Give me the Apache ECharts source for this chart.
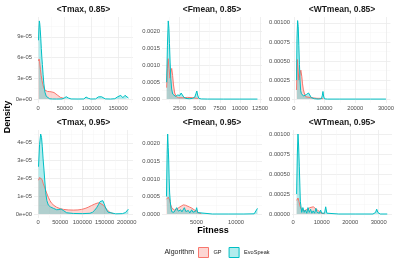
<!DOCTYPE html>
<html><head><meta charset="utf-8">
<script src="https://cdn.jsdelivr.net/npm/echarts@6/dist/echarts.min.js"></script>
<style>html,body{margin:0;padding:0;background:#fff}#c{width:397px;height:264px}</style>
</head><body><div id="c"></div>
<script>
// ---- Panel titles ----
const panelTitles = ['<Tmax, 0.85>', '<Fmean, 0.85>', '<WTmean, 0.85>', '<Tmax, 0.95>', '<Fmean, 0.95>', '<WTmean, 0.95>'];
const algorithms = ['GP', 'EvoSpeak'];

// ---- Density curves (x = fitness, y = density) ----
// <Tmax, 0.85>
const tmax85EvoX = [1000, 1800, 2500, 3300, 4200, 5200, 6200, 7200, 8200, 9500, 11000, 13000, 15500, 18000, 22000, 27000, 35000, 45000, 49000, 53000, 57000, 62000, 75000, 86000, 90000, 94000, 99000, 108000, 113000, 116500, 119000, 122000, 126000, 136000, 144000, 148500, 151500, 155000, 159000, 163000, 166500, 169500];
const tmax85EvoY = [8.5e-5, 1.04e-4, 1.13e-4, 1.09e-4, 1.0e-4, 8.8e-5, 7.3e-5, 6.0e-5, 5.0e-5, 3.6e-5, 2.2e-5, 1.0e-5, 4e-6, 1.5e-6, 4e-7, 1.5e-7, 1e-7, 2e-7, 1.5e-6, 3.4e-6, 1.5e-6, 2e-7, 1e-7, 2e-7, 3e-6, 1.2e-6, 1e-7, 3e-7, 3.2e-6, 2e-6, 3.4e-6, 2.5e-6, 3e-7, 1e-7, 5e-7, 3e-6, 1.5e-6, 5.4e-6, 2e-6, 5.4e-6, 3e-6, 1.5e-6];
const tmax85GpX = [1000, 2000, 3000, 4500, 6000, 7500, 9000, 11000, 13000, 15000, 18000, 22000, 26000, 30000, 33000, 36000, 39000, 42000, 45000, 48500];
const tmax85GpY = [5.5e-5, 5.8e-5, 5.4e-5, 4.3e-5, 3.4e-5, 2.7e-5, 2.1e-5, 1.6e-5, 1.3e-5, 1.15e-5, 1.1e-5, 1.08e-5, 1.03e-5, 9.5e-6, 8e-6, 6e-6, 4e-6, 2.5e-6, 1.5e-6, 1e-6];
// <Fmean, 0.85>
const fmean85EvoX = [900, 1000, 1100, 1180, 1250, 1330, 1420, 1520, 1650, 1780, 1880, 2000, 2120, 2260, 2400, 2550, 2700, 2800, 2900, 3050, 3300, 3700, 4100, 4400, 4550, 4650, 4750, 4900, 5200, 6000, 8000, 10000, 12180];
const fmean85EvoY = [0.0005, 0.0016, 0.00232, 0.0021, 0.00165, 0.0011, 0.0006, 0.0003, 0.00015, 0.00012, 0.00017, 0.00008, 0.00006, 0.00012, 0.00008, 0.00011, 0.00018, 0.00021, 0.00014, 0.00005, 0.00002, 0.00001, 0.00002, 0.00006, 0.00017, 0.00024, 0.00012, 0.00002, 0.000005, 0.000001, 0, 0, 0];
const fmean85GpX = [900, 1000, 1080, 1200, 1310, 1420, 1530, 1640, 1750, 1900, 2100, 2400, 2900, 3500, 4200, 4800];
const fmean85GpY = [0.00034, 0.0009, 0.0012, 0.0009, 0.00062, 0.0008, 0.00091, 0.0007, 0.00042, 0.00018, 0.00007, 0.00004, 0.00004, 0.00005, 0.00004, 0.00002];
// <WTmean, 0.85>
const wt85EvoX = [900, 1050, 1250, 1450, 1650, 1850, 2050, 2250, 2500, 2700, 2900, 3200, 3500, 3800, 4100, 4400, 4800, 5100, 5400, 5700, 6100, 6700, 8000, 9000, 9300, 9500, 9700, 10000, 11000, 15000, 20000, 25000, 30000];
const wt85EvoY = [0.00025, 0.0008, 0.00103, 0.00095, 0.0007, 0.00045, 0.00024, 0.00011, 0.00007, 0.00006, 0.00008, 0.00004, 0.00002, 0.00004, 0.00006, 0.00005, 0.00008, 0.0001, 0.00007, 0.00002, 0.00001, 0.000005, 0, 0.000005, 0.00005, 0.0001, 0.00004, 0.000003, 0, 0, 0, 0, 0];
const wt85GpX = [900, 1130, 1350, 1650, 1950, 2300, 2600, 2850, 3100, 3400, 3900, 4500, 5500, 6500, 7500, 8500, 9500];
const wt85GpY = [0.00012, 0.00052, 0.00042, 0.00025, 0.00031, 0.00038, 0.0003, 0.0002, 0.00013, 0.00008, 0.00003, 0.00002, 0.00002, 0.000015, 0.00001, 0.00001, 0.000005];
// <Tmax, 0.95>
const tmax95EvoX = [1200, 3500, 6000, 8000, 9700, 11500, 13500, 15500, 17300, 20000, 23300, 28000, 34500, 42000, 47000, 52000, 57000, 64600, 80000, 100000, 117000, 123000, 128000, 132000, 136000, 140000, 143000, 146000, 148600, 151500, 154700, 158000, 162000, 175000, 190000, 197000, 200000, 203500];
const tmax95EvoY = [2.66e-5, 3.9e-5, 4.5e-5, 4.3e-5, 3.78e-5, 3.1e-5, 2.47e-5, 1.8e-5, 1.2e-5, 7.5e-6, 5e-6, 4e-6, 3.2e-6, 2.4e-6, 2.5e-6, 2.8e-6, 2e-6, 7e-7, 3e-7, 2e-7, 4e-7, 1e-6, 2.2e-6, 3.5e-6, 5.2e-6, 7e-6, 7.9e-6, 7.5e-6, 6e-6, 4e-6, 2.2e-6, 1e-6, 3e-7, 1e-7, 2e-7, 8e-7, 1.6e-6, 2.7e-6];
const tmax95GpX = [1200, 3500, 6000, 9000, 12000, 15800, 19500, 23300, 27000, 30800, 36000, 42000, 50000, 57000, 68000, 80000, 90000, 98400, 106000, 113000, 120000, 128000, 133000, 138000, 142500, 147000, 151500, 156000, 161000, 166000, 170000];
const tmax95GpY = [1.9e-5, 2.05e-5, 2.1e-5, 1.95e-5, 1.7e-5, 1.44e-5, 1.18e-5, 9.4e-6, 7.5e-6, 6e-6, 4.8e-6, 3.8e-6, 3e-6, 2.6e-6, 2.3e-6, 2.2e-6, 2.3e-6, 2.6e-6, 3.1e-6, 3.8e-6, 4.7e-6, 5.6e-6, 6.1e-6, 6.3e-6, 6e-6, 5e-6, 3.6e-6, 2.2e-6, 1.2e-6, 5e-7, 2e-7];
// <Fmean, 0.95>
const fmean95EvoX = [1200, 1280, 1350, 1420, 1480, 1540, 1600, 1680, 1770, 1880, 2000, 2150, 2300, 2490, 2700, 2850, 3000, 3150, 3300, 3460, 3650, 3800, 3970, 4150, 4300, 4390, 4550, 4750, 4900, 5020, 5150, 5400, 7000, 9000, 11000, 12300, 12550, 12716];
const fmean95EvoY = [0.0005, 0.0017, 0.00228, 0.0019, 0.00154, 0.001, 0.0006, 0.00035, 0.00017, 0.00006, 0.00002, 0.00005, 0.0001, 0.00018, 0.00008, 0.00004, 0.00012, 0.00006, 0.00008, 0.00018, 0.00007, 0.00004, 0.0001, 0.00003, 0.00007, 0.00012, 0.00005, 0.00002, 0.00008, 0.00018, 0.00004, 0.000005, 0, 0, 0, 0.000005, 0.00006, 0.00016];
const fmean95GpX = [1200, 1430, 1600, 1730, 1900, 2060, 2250, 2490, 2750, 3000, 3330, 3600, 3840, 4100, 4390, 4700, 5020, 5300, 5600];
const fmean95GpY = [0.00042, 0.00048, 0.0004, 0.00026, 0.00016, 0.00011, 0.00011, 0.00013, 0.00018, 0.00023, 0.00026, 0.00025, 0.00022, 0.0002, 0.00017, 0.00012, 0.00008, 0.00003, 0.00001];
// <WTmean, 0.95>
const wt95EvoX = [1200, 1450, 1680, 1900, 2150, 2500, 2980, 3400, 3850, 4300, 4750, 5200, 5650, 6100, 6550, 7000, 7500, 8000, 8400, 8800, 9200, 9600, 10000, 10400, 11000, 11400, 11800, 12500, 16000, 22000, 28000, 28900, 29300, 29700, 30500, 33000];
const wt95EvoY = [0.00025, 0.00075, 0.001, 0.00085, 0.00059, 0.00016, 0.00002, 0.00008, 0.00002, 0.00005, 0.00001, 0.00008, 0.00002, 0.00006, 0.00001, 0.00004, 0.00001, 0.00007, 0.00002, 0.00003, 0.00001, 0.00005, 0.00001, 0.000005, 0.00001, 0.00009, 0.00001, 0, 0, 0, 0, 0.00002, 0.00006, 0.00002, 0, 0];
const wt95GpX = [1200, 1680, 2000, 2390, 2800, 3240, 3800, 4400, 5100, 5900, 6500, 7060, 7700, 8460, 9200, 10000, 11000];
const wt95GpY = [0.00017, 0.0002, 0.00016, 0.0001, 0.00006, 0.00004, 0.00004, 0.00005, 0.00006, 0.00008, 0.00009, 0.00009, 0.00007, 0.00005, 0.00003, 0.00001, 0.000003];

// ---- Axis ranges and tick steps per panel ----
const xRanges = [[-7500, 178000], [323, 12745], [-577, 31474], [-9000, 214000], [633, 13291], [-420, 34666]];
const xSteps = [50000, 2500, 10000, 50000, 5000, 10000];
const yMax = [1.13e-4, 0.00232, 0.001026, 4.5e-5, 0.00228, 0.001];
const ySteps = [3e-5, 0.0005, 0.00025, 1e-5, 0.0005, 0.00025];

const gpCurves = [[tmax85GpX, tmax85GpY], [fmean85GpX, fmean85GpY], [wt85GpX, wt85GpY], [tmax95GpX, tmax95GpY], [fmean95GpX, fmean95GpY], [wt95GpX, wt95GpY]];
const evoCurves = [[tmax85EvoX, tmax85EvoY], [fmean85EvoX, fmean85EvoY], [wt85EvoX, wt85EvoY], [tmax95EvoX, tmax95EvoY], [fmean95EvoX, fmean95EvoY], [wt95EvoX, wt95EvoY]];

// ---- formatting ----
function sci(v) {
  const s = v.toExponential(0).split('e');
  const e = s[1];
  return s[0] + 'e' + e[0] + e.slice(1).padStart(2, '0');
}
const yFormatters = [sci, v => v.toFixed(4), v => v.toFixed(5), sci, v => v.toFixed(4), v => v.toFixed(5)];

// ---- layout ----
const colLeft = [34, 162, 292];
const colWidth = [99, 100, 100];
const rowTop = [17, 130];
const rowHeight = [86, 88];
const xLabelMargin = [2, 1];
const GP_COLOR = '#F8766D', EVO_COLOR = '#00BFC4';
const FONT = 'Liberation Sans';

const grids = [], xAxes = [], yAxes = [], series = [], graphics = [];
for (let i = 0; i < 6; i++) {
  const c = i % 3, r = Math.floor(i / 3);
  grids.push({left: colLeft[c], top: rowTop[r], width: colWidth[c], height: rowHeight[r], containLabel: false});
  xAxes.push({
    type: 'value', gridIndex: i, min: xRanges[i][0], max: xRanges[i][1],
    minInterval: xSteps[i], maxInterval: xSteps[i], splitNumber: 5,
    axisLine: {show: false}, axisTick: {show: false},
    axisLabel: {fontSize: 5.8, color: '#4d4d4d', margin: xLabelMargin[r], showMinLabel: false, showMaxLabel: false, fontFamily: FONT,
      formatter: v => String(Math.round(v))},
    splitLine: {show: true, showMinLine: false, showMaxLine: false, lineStyle: {color: '#ebebeb', width: 0.8}},
    minorTick: {show: false, splitNumber: 2},
    minorSplitLine: {show: true, lineStyle: {color: '#f4f4f4', width: 0.5}}
  });
  const ym = yMax[i];
  yAxes.push({
    type: 'value', gridIndex: i, min: -0.05 * ym, max: 1.05 * ym,
    minInterval: ySteps[i], maxInterval: ySteps[i], splitNumber: 5,
    axisLine: {show: false}, axisTick: {show: false},
    axisLabel: {fontSize: 5.8, color: '#4d4d4d', margin: 2, showMinLabel: false, showMaxLabel: false, fontFamily: FONT,
      formatter: yFormatters[i]},
    splitLine: {show: true, showMinLine: false, showMaxLine: false, lineStyle: {color: '#ebebeb', width: 0.8}},
    minorTick: {show: false, splitNumber: 2},
    minorSplitLine: {show: true, lineStyle: {color: '#f4f4f4', width: 0.5}}
  });
  const curves = [[gpCurves[i], algorithms[0], GP_COLOR, 'rgba(248,118,109,0.3)'], [evoCurves[i], algorithms[1], EVO_COLOR, 'rgba(0,191,196,0.3)']];
  curves.forEach(([cv, name, col, fill]) => {
    series.push({
      type: 'line', name: name, xAxisIndex: i, yAxisIndex: i,
      data: cv[0].map((x, k) => [x, cv[1][k]]),
      showSymbol: false, symbol: 'none', silent: true,
      lineStyle: {color: col, width: 1},
      itemStyle: {color: col},
      areaStyle: {color: fill, opacity: 1}
    });
  });
  graphics.push({
    type: 'text', x: colLeft[c] + colWidth[c] / 2, y: r === 0 ? 10 : 123,
    style: {text: panelTitles[i], fontSize: 8.5, fontWeight: 'bold', fontFamily: FONT, fill: '#1a1a1a', textAlign: 'center', textVerticalAlign: 'middle'}
  });
}
graphics.push({type: 'text', x: 8, y: 117, rotation: Math.PI / 2,
  style: {text: 'Density', fontSize: 9, fontWeight: 'bold', fontFamily: FONT, fill: '#000', textAlign: 'center', textVerticalAlign: 'middle'}});
graphics.push({type: 'text', x: 213, y: 231,
  style: {text: 'Fitness', fontSize: 9, fontWeight: 'bold', fontFamily: FONT, fill: '#000', textAlign: 'center', textVerticalAlign: 'middle'}});
graphics.push({type: 'text', x: 194, y: 252,
  style: {text: 'Algorithm', fontSize: 7, fontFamily: FONT, fill: '#1a1a1a', textAlign: 'right', textVerticalAlign: 'middle'}});

const chart = echarts.init(document.getElementById('c'), null, {renderer: 'canvas'});
chart.setOption({
  animation: false,
  backgroundColor: '#ffffff',
  textStyle: {fontFamily: FONT},
  grid: grids, xAxis: xAxes, yAxis: yAxes, series: series,
  legend: {
    left: 198, top: 247, padding: 0, itemWidth: 10, itemHeight: 10, itemGap: 7, icon: 'rect',
    selectedMode: false,
    textStyle: {fontSize: 5.6, color: '#1a1a1a', fontFamily: FONT},
    data: [
      {name: 'GP', itemStyle: {color: 'rgba(248,118,109,0.3)', borderColor: GP_COLOR, borderWidth: 1}},
      {name: 'EvoSpeak', itemStyle: {color: 'rgba(0,191,196,0.3)', borderColor: EVO_COLOR, borderWidth: 1}}
    ]
  },
  graphic: graphics
});
</script></body></html>
